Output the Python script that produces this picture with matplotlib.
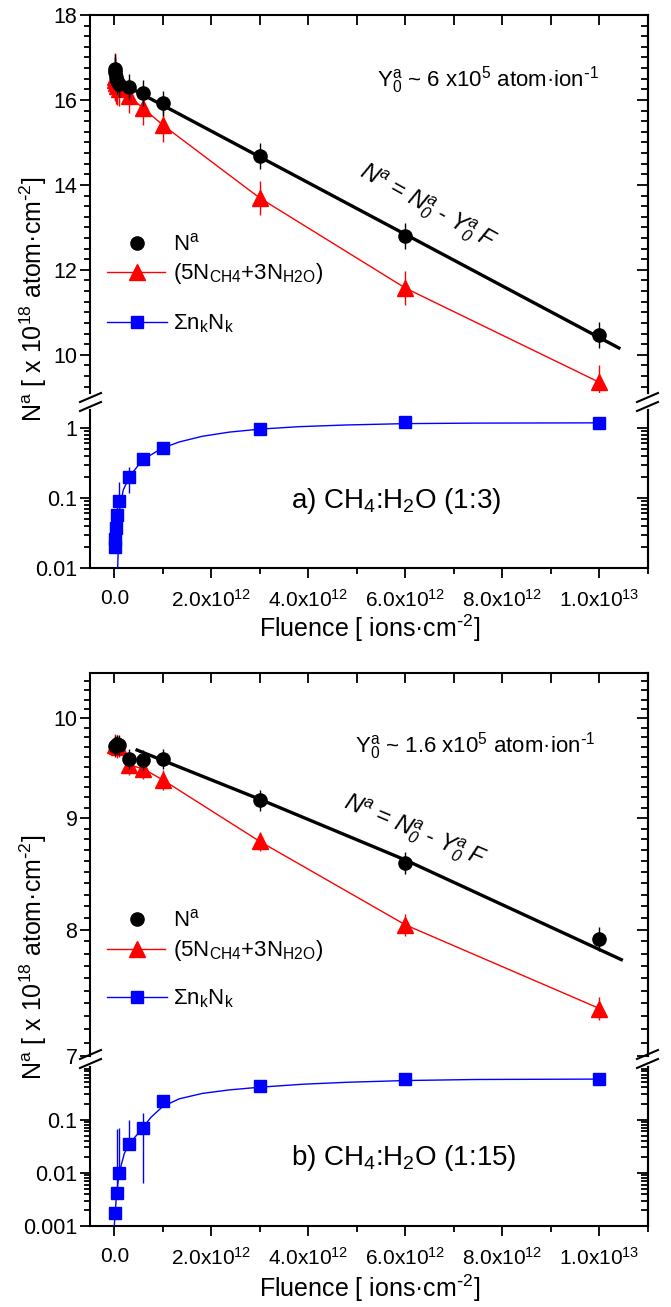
import numpy as np
import matplotlib
matplotlib.use('Agg')
import matplotlib.pyplot as plt
from matplotlib.lines import Line2D
from matplotlib.ticker import (FixedLocator, FixedFormatter, NullFormatter,
                               MultipleLocator, NullLocator, LogLocator)

plt.rcParams['font.family'] = ['Liberation Sans', 'DejaVu Sans']
plt.rcParams['mathtext.default'] = 'regular'

# ---- panel a) CH4:H2O (1:3)
fluence_a = [1e10, 2e10, 4e10, 6e10, 1e11, 3e11, 6e11, 1e12, 3e12, 6e12, 1e13]
na_a = [16.72, 16.65, 16.55, 16.45, 16.38, 16.30, 16.16, 15.92, 14.68, 12.80, 10.47]
na_a_err = [0.35, 0.35, 0.35, 0.3, 0.3, 0.3, 0.3, 0.3, 0.3, 0.3, 0.3]
mix_a = [16.55, 16.48, 16.40, 16.32, 16.25, 16.09, 15.80, 15.41, 13.69, 11.57, 9.35]
mix_a_err = [0.55, 0.5, 0.5, 0.45, 0.4, 0.4, 0.4, 0.4, 0.4, 0.4, 0.4]
sum_a = [0.020, 0.026, 0.037, 0.057, 0.089, 0.20, 0.36, 0.52, 0.97, 1.22, 1.17]
sum_a_lo = [0.020, 0.026, 0.030, 0.045, 0.089, 0.117, 0.30, 0.50, 0.93, 1.18, 1.13]
sum_a_hi = [0.020, 0.026, 0.060, 0.080, 0.17, 0.28, 0.42, 0.55, 1.01, 1.26, 1.21]
fit_a_x = [0.3e12, 10.4e12]
fit_a_y = [16.30, 10.16]
curve_a_x = [0.07e12, 0.09e12, 0.117e12, 0.186e12, 0.309e12, 0.584e12, 0.98e12,
             1.34e12, 1.82e12, 2.37e12, 3.0e12, 3.8e12, 4.77e12, 6.0e12, 7.45e12, 1.0e13]
curve_a_y = [0.01, 0.028, 0.075, 0.13, 0.20, 0.35, 0.51, 0.63, 0.76, 0.87, 0.96,
             1.04, 1.10, 1.15, 1.17, 1.18]

# ---- panel b) CH4:H2O (1:15)
fluence_b = [1e10, 5e10, 1e11, 3e11, 6e11, 1e12, 3e12, 6e12, 1e13]
na_b = [9.71, 9.73, 9.72, 9.58, 9.57, 9.58, 9.17, 8.58, 7.92]
na_b_err = [0.1, 0.1, 0.1, 0.1, 0.1, 0.1, 0.1, 0.1, 0.1]
mix_b = [9.72, 9.71, 9.70, 9.52, 9.48, 9.37, 8.78, 8.04, 7.36]
mix_b_err = [0.12, 0.12, 0.1, 0.1, 0.1, 0.1, 0.09, 0.09, 0.09]
sum_b = [0.00173, 0.0042, 0.0101, 0.035, 0.069, 0.22, 0.43, 0.575, 0.575]
sum_b_lo = [0.00173, 0.0042, 0.0101, 0.035, 0.0063, 0.20, 0.41, 0.56, 0.56]
sum_b_hi = [0.00173, 0.065, 0.070, 0.10, 0.13, 0.24, 0.45, 0.59, 0.59]
fit_b_x = [0.47e12, 3e12, 6e12, 10.45e12]
fit_b_y = [9.67, 9.18, 8.61, 7.75]
curve_b_x = [0.0, 0.048e12, 0.103e12, 0.206e12, 0.309e12, 0.515e12, 0.756e12, 0.996e12,
             1.34e12, 1.82e12, 2.37e12, 3.0e12, 3.88e12, 4.77e12, 6.0e12, 7.45e12, 1.0e13]
curve_b_y = [0.001, 0.0041, 0.0101, 0.0229, 0.035, 0.058, 0.110, 0.175, 0.245, 0.31,
             0.36, 0.405, 0.46, 0.50, 0.54, 0.565, 0.575]

xticks = [0, 2e12, 4e12, 6e12, 8e12, 1e13]
xticklabels = ['0.0', '2.0x10$^{12}$', '4.0x10$^{12}$', '6.0x10$^{12}$',
               '8.0x10$^{12}$', '1.0x10$^{13}$']

W, H = 671, 1307
fig = plt.figure(figsize=(W / 100, H / 100), dpi=100)


def box(top, bottom, left=90, right=648):
    return [left / W, 1 - bottom / H, (right - left) / W, (bottom - top) / H]


def fx(x):
    return x / W


def fy(y):
    return 1 - y / H


def style_y(ax, major, labels, minor):
    ax.yaxis.set_major_locator(FixedLocator(major))
    ax.yaxis.set_major_formatter(FixedFormatter(labels))
    ax.yaxis.set_minor_locator(minor)
    ax.yaxis.set_minor_formatter(NullFormatter())
    ax.tick_params(axis='y', which='major', direction='out', length=7, width=1.3,
                   left=True, right=False, labelsize=15.5, pad=2)
    ax.tick_params(axis='y', which='minor', direction='out', length=4, width=1.3,
                   left=True, right=False)
    sec = ax.secondary_yaxis('right')
    sec.yaxis.set_major_locator(FixedLocator(major))
    sec.yaxis.set_minor_locator(minor)
    sec.yaxis.set_major_formatter(NullFormatter())
    sec.yaxis.set_minor_formatter(NullFormatter())
    sec.tick_params(axis='y', which='major', direction='in', length=8, width=1.3)
    sec.tick_params(axis='y', which='minor', direction='in', length=5, width=1.3)
    sec.spines['right'].set_linewidth(1.5)


def upper_axes(top, bottom, ylim, yscale, major, labels, minor):
    ax = fig.add_axes(box(top, bottom))
    ax.set_yscale(yscale)
    ax.set_xlim(-0.5e12, 1.1e13)
    ax.set_ylim(*ylim)
    ax.spines['bottom'].set_visible(False)
    for s in ax.spines.values():
        s.set_linewidth(1.5)
    ax.xaxis.set_major_locator(MultipleLocator(1e12))
    ax.xaxis.set_minor_locator(NullLocator())
    ax.tick_params(axis='x', which='both', top=True, bottom=False, labelbottom=False,
                   labeltop=False, direction='in', length=7, width=1.3)
    style_y(ax, major, labels, minor)
    return ax


def lower_axes(top, bottom, ylim, major, labels):
    ax = fig.add_axes(box(top, bottom))
    ax.set_yscale('log')
    ax.set_xlim(-0.5e12, 1.1e13)
    ax.set_ylim(*ylim)
    ax.spines['top'].set_visible(False)
    for s in ax.spines.values():
        s.set_linewidth(1.5)
    ax.xaxis.set_major_locator(FixedLocator(xticks))
    ax.xaxis.set_major_formatter(FixedFormatter(xticklabels))
    ax.xaxis.set_minor_locator(MultipleLocator(1e12))
    ax.tick_params(axis='x', which='major', direction='out', length=7, width=1.3,
                   top=False, labelsize=15, pad=8)
    ax.tick_params(axis='x', which='minor', direction='out', length=4, width=1.3, top=False)
    style_y(ax, major, labels, LogLocator(base=10, subs=np.arange(2, 10), numticks=20))
    return ax


def draw_upper(ax, f, na, na_err, mix, mix_err, fx_, fy_):
    ax.errorbar(f, mix, yerr=mix_err, fmt='-^', color='red', lw=1, ms=11,
                elinewidth=1, capsize=0, zorder=3)
    ax.plot(fx_, fy_, '-', color='black', lw=2.4, zorder=4)
    ax.errorbar(f, na, yerr=na_err, fmt='o', color='black', ms=9.5,
                elinewidth=1, capsize=0, zorder=5)


def draw_lower(ax, f, s, lo, hi, cx, cy):
    yerr = [np.array(s) - np.array(lo), np.array(hi) - np.array(s)]
    ax.errorbar(f, s, yerr=yerr, fmt='s', color='blue', ms=8.5, elinewidth=1,
                capsize=0, zorder=4)
    ax.plot(cx, cy, '-', color='blue', lw=1, zorder=3)


def breaks(y0):
    for xl in (80, 637):
        for dy in (0, 9):
            fig.add_artist(Line2D([fx(xl), fx(xl + 21)],
                                  [fy(y0 + 9 + dy), fy(y0 + dy)], color='black', lw=1.5))


def legend(y1, y2, y3):
    fig.add_artist(Line2D([fx(137)], [fy(y1)], marker='o', color='black', ms=9.5, lw=0))
    fig.add_artist(Line2D([fx(107), fx(165)], [fy(y2), fy(y2)], color='red', lw=1))
    fig.add_artist(Line2D([fx(137)], [fy(y2)], marker='^', color='red', ms=11, lw=0))
    fig.add_artist(Line2D([fx(107), fx(167)], [fy(y3), fy(y3)], color='blue', lw=1))
    fig.add_artist(Line2D([fx(137)], [fy(y3)], marker='s', color='blue', ms=8.5, lw=0))
    fig.text(fx(173), fy(y1 + 7), 'N$^a$', fontsize=16, va='baseline')
    fig.text(fx(173), fy(y2 + 7), '(5N$_{CH4}$+3N$_{H2O}$)', fontsize=16, va='baseline')
    fig.text(fx(173), fy(y3 + 7), '\u03a3n$_k$N$_k$', fontsize=16, va='baseline')


ylabel = 'N$^a$ [ x 10$^{18}$ atom\u00b7cm$^{\\text{-}2}$]'
xlabel = 'Fluence [ ions\u00b7cm$^{\\text{-}2}$]'

# panel a
ax1 = upper_axes(15, 393, (9.1, 18), 'linear', [10, 12, 14, 16, 18],
                 ['10', '12', '14', '16', '18'], MultipleLocator(0.25))
draw_upper(ax1, fluence_a, na_a, na_a_err, mix_a, mix_a_err, fit_a_x, fit_a_y)
ax2 = lower_axes(410, 568, (0.01, 1.8), [0.01, 0.1, 1], ['0.01', '0.1', '1'])
draw_lower(ax2, fluence_a, sum_a, sum_a_lo, sum_a_hi, curve_a_x, curve_a_y)
breaks(393)
legend(243, 272, 322)
fig.text(fx(377), fy(87), 'Y$_0^a$ ~ 6 x10$^5$ atom\u00b7ion$^{\\text{-}1}$', fontsize=16,
         va='baseline')
fig.text(fx(427), fy(207), 'N$^a$ = N$_0^a$ - Y$_0^a$ F', fontsize=17, style='italic',
         rotation=-29, rotation_mode='anchor', ha='center', va='center')
fig.text(fx(291), fy(508), 'a) CH$_4$:H$_2$O (1:3)', fontsize=20, va='baseline')
fig.text(fx(42), fy(299), ylabel, fontsize=18,
         rotation=90, rotation_mode='anchor', ha='center', va='baseline')
fig.text(fx(370), fy(637), xlabel, fontsize=18, ha='center', va='baseline')

# panel b
ax3 = upper_axes(673, 1056, (7, 10.49), 'log', [7, 8, 9, 10], ['7', '8', '9', '10'],
                 FixedLocator(np.arange(7.1, 10.45, 0.1)))
draw_upper(ax3, fluence_b, na_b, na_b_err, mix_b, mix_b_err, fit_b_x, fit_b_y)
ax4 = lower_axes(1067, 1226, (0.001, 0.97), [0.001, 0.01, 0.1], ['0.001', '0.01', '0.1'])
draw_lower(ax4, fluence_b, sum_b, sum_b_lo, sum_b_hi, curve_b_x, curve_b_y)
breaks(1050)
legend(919, 949, 997)
fig.text(fx(355), fy(752), 'Y$_0^a$ ~ 1.6 x10$^5$ atom\u00b7ion$^{\\text{-}1}$', fontsize=16,
         va='baseline')
fig.text(fx(415), fy(832), 'N$^a$ = N$_0^a$ - Y$_0^a$ F', fontsize=17, style='italic',
         rotation=-23, rotation_mode='anchor', ha='center', va='center')
fig.text(fx(291), fy(1165), 'b) CH$_4$:H$_2$O (1:15)', fontsize=20, va='baseline')
fig.text(fx(42), fy(957), ylabel, fontsize=18,
         rotation=90, rotation_mode='anchor', ha='center', va='baseline')
fig.text(fx(370), fy(1297), xlabel, fontsize=18, ha='center', va='baseline')

fig.savefig('out.png', dpi=100)
